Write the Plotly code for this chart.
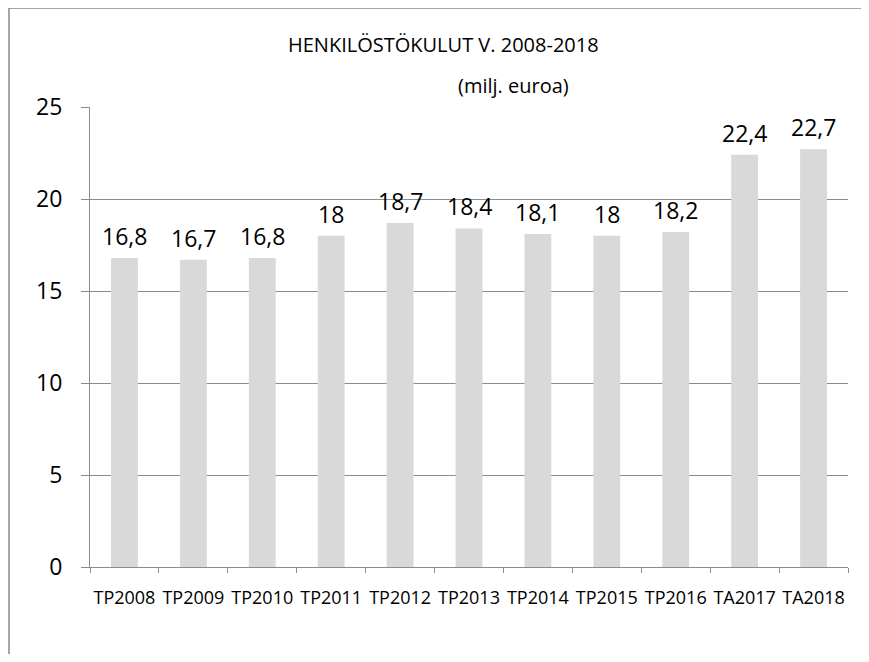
import plotly.graph_objects as go

categories = ["TP2008", "TP2009", "TP2010", "TP2011", "TP2012", "TP2013",
              "TP2014", "TP2015", "TP2016", "TA2017", "TA2018"]
values = [16.8, 16.7, 16.8, 18, 18.7, 18.4, 18.1, 18, 18.2, 22.4, 22.7]
value_labels = ["16,8", "16,7", "16,8", "18", "18,7", "18,4", "18,1", "18", "18,2", "22,4", "22,7"]
title_line1 = "HENKILÖSTÖKULUT V. 2008-2018"
title_line2 = "(milj. euroa)"

FONT = "Open Sans"
GRID = "#8c8c8c"

# page is offset by the 8px body margin: figure coordinate = page coordinate - 8
W, H = 861, 646
L, R, T, B = 82, 840, 99, 559  # plot area in figure pixels
PW, PH = R - L, B - T


def px(x):
    return (x - L) / PW


def py(y):
    return (B - y) / PH


fig = go.Figure()
fig.add_trace(go.Bar(
    x=categories, y=values,
    marker=dict(color="#d9d9d9", line=dict(width=0)),
    width=0.39,
    hoverinfo="skip",
))

for c, v, t in zip(categories, values, value_labels):
    fig.add_annotation(x=c, y=v, text=t, showarrow=False, yanchor="middle",
                       yshift=22, font=dict(family=FONT, size=23, color="#000000"))

# title (two separately placed lines, as in the reference)
fig.add_annotation(xref="paper", yref="paper", x=px(435), y=py(37),
                   text=title_line1, showarrow=False, xanchor="center", yanchor="middle",
                   font=dict(family=FONT, size=20, color="#000000"))
fig.add_annotation(xref="paper", yref="paper", x=px(505), y=py(77),
                   text=title_line2, showarrow=False, xanchor="center", yanchor="middle",
                   font=dict(family=FONT, size=20, color="#000000"))

# outer chart border: only the left and top edges are visible in the reference
border = dict(color="#888888", width=1.5)
fig.add_shape(type="line", xref="paper", yref="paper",
              x0=px(1), x1=px(1), y0=py(H), y1=py(0), line=border)
fig.add_shape(type="line", xref="paper", yref="paper",
              x0=px(1), x1=px(W), y0=py(0), y1=py(0), line=border)

fig.update_layout(
    width=W, height=H,
    margin=dict(l=L, r=W - R, t=T, b=H - B, autoexpand=False),
    paper_bgcolor="white", plot_bgcolor="white",
    showlegend=False,
    font=dict(family=FONT, color="#000000"),
    xaxis=dict(
        type="category",
        showline=True, linecolor=GRID, linewidth=1,
        ticks="outside", ticklen=5, tickcolor=GRID, tickwidth=1,
        tickson="boundaries",
        tickangle=0, automargin=False,
        tickfont=dict(family=FONT, size=18, color="#000000"),
        ticklabelstandoff=14,
        showgrid=False,
    ),
    yaxis=dict(
        range=[0, 25], dtick=5, tick0=0,
        showline=True, linecolor=GRID, linewidth=1,
        ticks="outside", ticklen=8, tickcolor=GRID, tickwidth=1,
        showgrid=True, gridcolor=GRID, gridwidth=1,
        zeroline=False, automargin=False,
        tickfont=dict(family=FONT, size=23, color="#000000"),
        ticklabelstandoff=14,
    ),
)

fig.write_html("out.html")
